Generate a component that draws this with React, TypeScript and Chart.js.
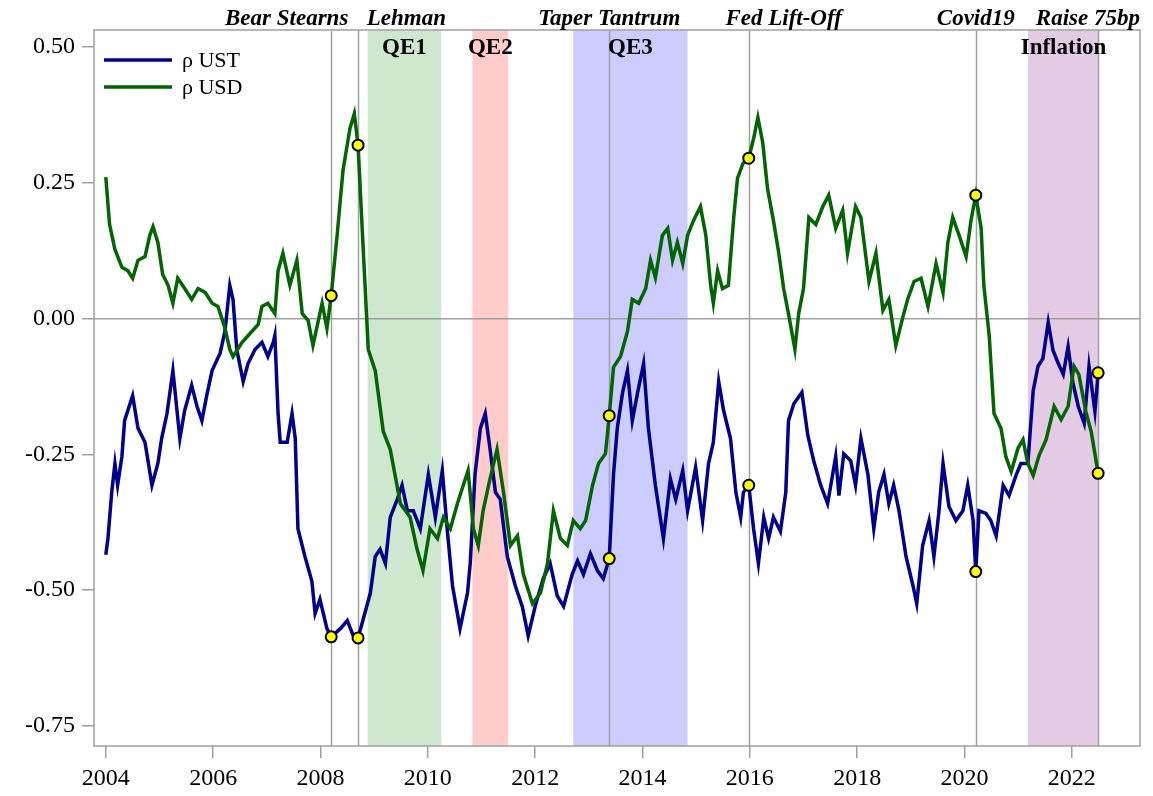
import React, { useEffect, useRef } from "react";
import { Chart, registerables } from "chart.js";

Chart.register(...registerables);

// [decimal year, correlation]
const ustSeries: number[][] = [
  [2004.0, -0.435], [2004.04, -0.405], [2004.11, -0.32], [2004.17, -0.267], [2004.22, -0.307],
  [2004.3, -0.254], [2004.35, -0.188], [2004.5, -0.142], [2004.6, -0.202], [2004.73, -0.228],
  [2004.86, -0.307], [2004.97, -0.267], [2005.04, -0.221], [2005.14, -0.175], [2005.25, -0.096],
  [2005.38, -0.221], [2005.47, -0.169], [2005.6, -0.123], [2005.7, -0.162], [2005.79, -0.188],
  [2005.88, -0.142], [2005.98, -0.096], [2006.13, -0.064], [2006.22, -0.024], [2006.31, 0.061],
  [2006.37, 0.035], [2006.44, -0.057], [2006.56, -0.116], [2006.65, -0.083], [2006.78, -0.057],
  [2006.91, -0.044], [2007.02, -0.07], [2007.12, -0.044], [2007.15, -0.031], [2007.21, -0.175],
  [2007.25, -0.228], [2007.38, -0.228], [2007.47, -0.175], [2007.53, -0.221], [2007.58, -0.387],
  [2007.71, -0.438], [2007.84, -0.484], [2007.9, -0.543], [2007.99, -0.517], [2008.12, -0.571],
  [2008.2, -0.586], [2008.37, -0.571], [2008.5, -0.556], [2008.61, -0.584], [2008.7, -0.588],
  [2008.79, -0.556], [2008.93, -0.505], [2009.02, -0.438], [2009.11, -0.425], [2009.21, -0.451],
  [2009.3, -0.366], [2009.43, -0.333], [2009.52, -0.307], [2009.62, -0.354], [2009.73, -0.354],
  [2009.86, -0.387], [2010.01, -0.287], [2010.14, -0.366], [2010.27, -0.28], [2010.36, -0.387],
  [2010.46, -0.492], [2010.6, -0.571], [2010.74, -0.505], [2010.79, -0.451], [2010.88, -0.287],
  [2010.98, -0.202], [2011.07, -0.175], [2011.16, -0.241], [2011.26, -0.32], [2011.35, -0.333],
  [2011.48, -0.438], [2011.63, -0.492], [2011.76, -0.53], [2011.87, -0.584], [2012.0, -0.53],
  [2012.15, -0.479], [2012.28, -0.451], [2012.41, -0.51], [2012.53, -0.53], [2012.69, -0.471],
  [2012.79, -0.446], [2012.9, -0.471], [2013.03, -0.433], [2013.16, -0.464], [2013.27, -0.479],
  [2013.38, -0.442], [2013.46, -0.287], [2013.53, -0.202], [2013.63, -0.136], [2013.72, -0.096],
  [2013.81, -0.188], [2013.91, -0.136], [2014.02, -0.083], [2014.11, -0.202], [2014.24, -0.307],
  [2014.39, -0.405], [2014.52, -0.295], [2014.62, -0.333], [2014.75, -0.28], [2014.84, -0.354],
  [2014.99, -0.274], [2015.12, -0.372], [2015.23, -0.267], [2015.32, -0.228], [2015.42, -0.116],
  [2015.51, -0.169], [2015.64, -0.221], [2015.74, -0.32], [2015.83, -0.366], [2015.88, -0.32],
  [2015.98, -0.307], [2016.07, -0.387], [2016.16, -0.451], [2016.26, -0.366], [2016.35, -0.405],
  [2016.44, -0.366], [2016.57, -0.392], [2016.67, -0.32], [2016.72, -0.188], [2016.82, -0.157],
  [2016.97, -0.136], [2017.08, -0.215], [2017.19, -0.262], [2017.32, -0.307], [2017.45, -0.341],
  [2017.6, -0.254], [2017.66, -0.326], [2017.75, -0.249], [2017.88, -0.262], [2017.97, -0.307],
  [2018.07, -0.221], [2018.2, -0.287], [2018.31, -0.387], [2018.4, -0.32], [2018.5, -0.287],
  [2018.59, -0.341], [2018.68, -0.307], [2018.78, -0.354], [2018.91, -0.438], [2019.04, -0.492],
  [2019.11, -0.525], [2019.22, -0.418], [2019.34, -0.372], [2019.43, -0.438], [2019.52, -0.359],
  [2019.6, -0.267], [2019.71, -0.346], [2019.84, -0.372], [2019.97, -0.354], [2020.06, -0.307],
  [2020.16, -0.372], [2020.21, -0.466], [2020.27, -0.354], [2020.4, -0.359], [2020.49, -0.372],
  [2020.59, -0.4], [2020.72, -0.307], [2020.83, -0.326], [2020.96, -0.289], [2021.05, -0.267],
  [2021.18, -0.267], [2021.28, -0.133], [2021.37, -0.088], [2021.46, -0.074], [2021.56, -0.007],
  [2021.65, -0.059], [2021.74, -0.081], [2021.84, -0.103], [2021.93, -0.052], [2022.02, -0.118],
  [2022.12, -0.162], [2022.23, -0.193], [2022.32, -0.088], [2022.43, -0.171], [2022.49, -0.1],
];

const usdSeries: number[][] = [
  [2004.0, 0.26], [2004.07, 0.173], [2004.17, 0.127], [2004.3, 0.094], [2004.41, 0.088],
  [2004.5, 0.074], [2004.6, 0.107], [2004.73, 0.114], [2004.82, 0.153], [2004.88, 0.169],
  [2004.97, 0.14], [2005.06, 0.081], [2005.16, 0.061], [2005.25, 0.028], [2005.34, 0.074],
  [2005.47, 0.055], [2005.6, 0.035], [2005.72, 0.055], [2005.85, 0.048], [2005.98, 0.028],
  [2006.09, 0.022], [2006.22, -0.018], [2006.31, -0.057], [2006.37, -0.07], [2006.54, -0.044],
  [2006.72, -0.024], [2006.84, -0.011], [2006.91, 0.022], [2007.02, 0.028], [2007.15, 0.009],
  [2007.21, 0.088], [2007.3, 0.12], [2007.43, 0.061], [2007.56, 0.107], [2007.66, 0.009],
  [2007.77, -0.004], [2007.86, -0.05], [2008.03, 0.028], [2008.12, -0.018], [2008.2, 0.042],
  [2008.31, 0.153], [2008.42, 0.273], [2008.55, 0.35], [2008.63, 0.377], [2008.7, 0.319],
  [2008.79, 0.14], [2008.89, -0.057], [2009.02, -0.096], [2009.17, -0.208], [2009.3, -0.241],
  [2009.49, -0.341], [2009.67, -0.366], [2009.8, -0.425], [2009.91, -0.464], [2010.04, -0.387],
  [2010.18, -0.405], [2010.29, -0.366], [2010.42, -0.387], [2010.55, -0.341], [2010.7, -0.295],
  [2010.75, -0.28], [2010.85, -0.387], [2010.94, -0.418], [2011.03, -0.354], [2011.16, -0.295],
  [2011.29, -0.241], [2011.41, -0.32], [2011.54, -0.418], [2011.67, -0.4], [2011.78, -0.471],
  [2011.95, -0.525], [2012.1, -0.505], [2012.23, -0.451], [2012.34, -0.354], [2012.47, -0.405],
  [2012.6, -0.418], [2012.71, -0.372], [2012.84, -0.387], [2012.94, -0.372], [2013.07, -0.307],
  [2013.18, -0.267], [2013.31, -0.249], [2013.38, -0.179], [2013.46, -0.09], [2013.59, -0.07],
  [2013.72, -0.024], [2013.81, 0.035], [2013.93, 0.028], [2014.06, 0.055], [2014.15, 0.107],
  [2014.24, 0.075], [2014.37, 0.153], [2014.47, 0.166], [2014.56, 0.107], [2014.65, 0.14],
  [2014.75, 0.101], [2014.84, 0.153], [2014.95, 0.18], [2015.08, 0.206], [2015.18, 0.153],
  [2015.27, 0.061], [2015.32, 0.028], [2015.4, 0.088], [2015.49, 0.055], [2015.6, 0.061],
  [2015.7, 0.186], [2015.77, 0.258], [2015.87, 0.285], [2015.98, 0.295], [2016.07, 0.331],
  [2016.15, 0.37], [2016.24, 0.324], [2016.33, 0.239], [2016.44, 0.18], [2016.54, 0.12],
  [2016.63, 0.055], [2016.72, 0.009], [2016.84, -0.057], [2016.91, 0.009], [2017.0, 0.055],
  [2017.1, 0.186], [2017.23, 0.173], [2017.36, 0.206], [2017.47, 0.227], [2017.6, 0.166],
  [2017.73, 0.199], [2017.82, 0.12], [2017.97, 0.206], [2018.07, 0.186], [2018.22, 0.068],
  [2018.35, 0.12], [2018.48, 0.015], [2018.59, 0.035], [2018.72, -0.05], [2018.85, 0.002],
  [2018.94, 0.035], [2019.06, 0.068], [2019.19, 0.074], [2019.32, 0.022], [2019.47, 0.101],
  [2019.6, 0.048], [2019.69, 0.14], [2019.78, 0.186], [2019.9, 0.153], [2020.03, 0.114],
  [2020.12, 0.18], [2020.21, 0.227], [2020.31, 0.166], [2020.36, 0.061], [2020.46, -0.031],
  [2020.55, -0.175], [2020.68, -0.202], [2020.77, -0.254], [2020.87, -0.282], [2021.0, -0.238],
  [2021.09, -0.223], [2021.18, -0.267], [2021.28, -0.289], [2021.39, -0.252], [2021.52, -0.223],
  [2021.67, -0.162], [2021.8, -0.186], [2021.93, -0.162], [2022.04, -0.088], [2022.13, -0.103],
  [2022.26, -0.171], [2022.36, -0.208], [2022.49, -0.285],
];

const eventNames = ["Bear Stearns", "Lehman", "Taper Tantrum", "Fed Lift-Off", "Covid19", "Raise 75bp"];
const eventDates = [2008.2, 2008.7, 2013.38, 2015.98, 2020.21, 2022.49];
const eventLabelDates = [2007.37, 2009.6, 2013.38, 2016.63, 2020.21, 2022.3];

const markerPoints: number[][] = [
  [2008.2, 0.042], [2008.2, -0.586], [2008.7, 0.319], [2008.7, -0.588],
  [2013.38, -0.179], [2013.38, -0.442], [2015.98, 0.295], [2015.98, -0.307],
  [2020.21, 0.227], [2020.21, -0.466], [2022.49, -0.1], [2022.49, -0.285],
];

const bandNames = ["QE1", "QE2", "QE3", "Inflation"];
const bandStarts = [2008.88, 2010.83, 2012.71, 2021.18];
const bandEnds = [2010.25, 2011.5, 2014.84, 2022.51];
const bandColors = ["rgb(207,230,207)", "rgb(255,204,204)", "rgb(204,204,255)", "rgb(227,204,227)"];

const yTicks = [-0.75, -0.5, -0.25, 0, 0.25, 0.5];
const seriesNames = ["\u03c1 UST", "\u03c1 USD"];
const seriesColors = ["#00008B", "#006400"];

const GRAY = "#A0A0A0";
const FONT = '"Liberation Serif", "Times New Roman", serif';

const overlayPlugin = {
  id: "overlay",
  beforeDraw(chart: any) {
    const { ctx, chartArea: a, scales } = chart;
    const x = scales.x;
    ctx.save();
    bandStarts.forEach((s, i) => {
      const x0 = x.getPixelForValue(s);
      const x1 = x.getPixelForValue(bandEnds[i]);
      ctx.fillStyle = bandColors[i];
      ctx.fillRect(x0, a.top, x1 - x0, a.bottom - a.top);
    });
    ctx.strokeStyle = GRAY;
    ctx.lineWidth = 1.5;
    eventDates.forEach((d) => {
      const px = Math.round(x.getPixelForValue(d)) + 0.5;
      ctx.beginPath();
      ctx.moveTo(px, a.top);
      ctx.lineTo(px, a.bottom);
      ctx.stroke();
    });
    ctx.restore();
  },
  afterDraw(chart: any) {
    const { ctx, chartArea: a, scales } = chart;
    const x = scales.x;
    ctx.save();
    ctx.strokeStyle = GRAY;
    ctx.lineWidth = 1.5;
    ctx.strokeRect(a.left, a.top, a.right - a.left, a.bottom - a.top);

    ctx.fillStyle = "#000";
    ctx.textAlign = "center";
    ctx.textBaseline = "middle";
    ctx.font = `italic bold 23px ${FONT}`;
    eventNames.forEach((n, i) => {
      ctx.fillText(n, x.getPixelForValue(eventLabelDates[i]), 19);
    });
    ctx.font = `bold 23px ${FONT}`;
    bandNames.forEach((n, i) => {
      const c = (x.getPixelForValue(bandStarts[i]) + x.getPixelForValue(bandEnds[i])) / 2;
      ctx.fillText(n, c, a.top + 18);
    });

    // legend
    ctx.textAlign = "left";
    ctx.font = `22px ${FONT}`;
    seriesNames.forEach((n, i) => {
      const ly = a.top + 30 + i * 27;
      ctx.strokeStyle = seriesColors[i];
      ctx.lineWidth = 3.5;
      ctx.beginPath();
      ctx.moveTo(a.left + 10, ly);
      ctx.lineTo(a.left + 78, ly);
      ctx.stroke();
      ctx.fillStyle = "#000";
      ctx.fillText(n, a.left + 88, ly + 1);
    });
    ctx.restore();
  },
};

export default function App() {
  const ref = useRef<HTMLCanvasElement | null>(null);

  useEffect(() => {
    if (!ref.current) return;
    const chart = new Chart(ref.current, {
      type: "line",
      data: {
        datasets: [
          {
            label: seriesNames[0],
            data: ustSeries.map((p) => ({ x: p[0], y: p[1] })),
            borderColor: seriesColors[0],
            borderWidth: 3.5,
            pointRadius: 0,
            tension: 0,
            order: 3,
          },
          {
            label: seriesNames[1],
            data: usdSeries.map((p) => ({ x: p[0], y: p[1] })),
            borderColor: seriesColors[1],
            borderWidth: 3.5,
            pointRadius: 0,
            tension: 0,
            order: 2,
          },
          {
            type: "scatter",
            label: "events",
            data: markerPoints.map((p) => ({ x: p[0], y: p[1] })),
            backgroundColor: "#FFFF00",
            borderColor: "#000",
            borderWidth: 2,
            pointRadius: 5.5,
            showLine: false,
            order: 1,
          } as any,
        ],
      },
      options: {
        animation: false,
        responsive: true,
        maintainAspectRatio: false,
        layout: { padding: { top: 30, right: 13, left: 0, bottom: 0 } },
        plugins: { legend: { display: false }, tooltip: { enabled: false } },
        events: [],
        scales: {
          x: {
            type: "linear",
            min: 2003.78,
            max: 2023.27,
            afterFit: (s: any) => {
              s.height = 50;
            },
            border: { display: false },
            grid: { drawOnChartArea: false, tickColor: GRAY, tickLength: 12, lineWidth: 1.5 },
            ticks: {
              stepSize: 2,
              includeBounds: false,
              padding: 6,
              color: "#000",
              font: { family: FONT, size: 24 },
              maxRotation: 0,
              callback: (v: any) => String(Math.round(Number(v))),
            },
          },
          y: {
            type: "linear",
            min: -0.787,
            max: 0.531,
            afterFit: (s: any) => {
              s.width = 94;
            },
            afterBuildTicks: (s: any) => {
              s.ticks = yTicks.map((v) => ({ value: v }));
            },
            border: { display: false },
            grid: {
              color: (c: any) => (c.tick && c.tick.value === 0 ? GRAY : "rgba(0,0,0,0)"),
              tickColor: GRAY,
              tickLength: 12,
              lineWidth: 1.5,
            },
            ticks: {
              padding: 7,
              color: "#000",
              font: { family: FONT, size: 24 },
              callback: (v: any) => Number(v).toFixed(2),
            },
          },
        },
      },
      plugins: [overlayPlugin],
    } as any);
    return () => chart.destroy();
  }, []);

  return (
    <div style={{ position: "fixed", left: 0, top: 0, width: 1153, height: 796, background: "#fff" }}>
      <canvas ref={ref} />
    </div>
  );
}
